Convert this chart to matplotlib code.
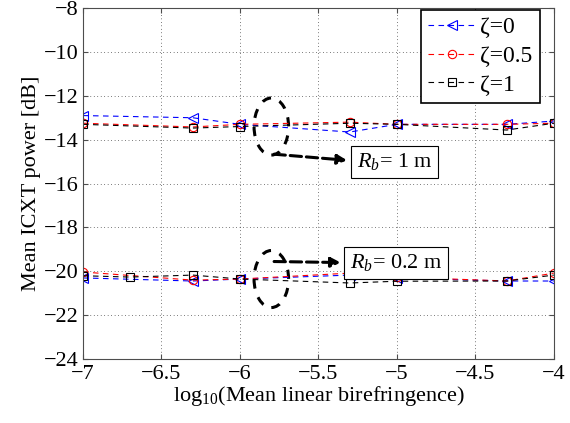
import numpy as np
import matplotlib.pyplot as plt
from matplotlib.patches import Ellipse

plt.rcParams['font.family'] = ['Liberation Serif', 'DejaVu Serif']
plt.rcParams['mathtext.fontset'] = 'custom'
plt.rcParams['mathtext.rm'] = 'Liberation Serif'
plt.rcParams['mathtext.it'] = 'Liberation Serif:italic'

# data
x = [-7, -6.3, -6, -5.3, -5, -4.3, -4]
x_b = [-7, -6.7, -6.3, -6, -5.3, -5, -4.3, -4]

# R_b = 1 m
up_z0 = [-12.9, -13.0, -13.3, -13.65, -13.3, -13.3, -13.15]
up_z05 = [-13.25, -13.42, -13.3, -13.2, -13.3, -13.3, -13.25]
up_z1 = [-13.3, -13.47, -13.4, -13.25, -13.3, -13.56, -13.25]

# R_b = 0.2 m
lo_z0 = [-20.3, -20.44, -20.35, -20.17, -20.3, -20.44, -20.44]
lo_z05 = [-20.03, -20.4, -20.35, -20.08, -20.26, -20.44, -20.08]
lo_z1 = [-20.2, -20.26, -20.17, -20.35, -20.53, -20.45, -20.44, -20.17]

labels = ['ζ=0', 'ζ=0.5', 'ζ=1']

fig = plt.figure(figsize=(5.7, 4.23), dpi=100)
ax = fig.add_axes([0.1456, 0.151, 0.826, 0.830])

dash = (0, (5, 4))
kw = dict(mfc='none', lw=0.8, ls=dash, mew=0.8)
ax.plot(x, up_z0, 'b<', ms=7, label=labels[0], **kw)
ax.plot(x, up_z05, 'ro', ms=6, label=labels[1], **kw)
ax.plot(x, up_z1, 'ks', ms=6, label=labels[2], **kw)
ax.plot(x, lo_z0, 'b<', ms=7, **kw)
ax.plot(x, lo_z05, 'ro', ms=6, **kw)
ax.plot(x_b, lo_z1, 'ks', ms=6, **kw)

# dashed ellipses with arrows to the labels
for cy in (-13.4, -20.35):
    ax.add_patch(Ellipse((-5.8, cy), 0.22, 2.6, fill=False, ls=(0, (3, 3)),
                         lw=2.2, ec='k'))
ax.annotate('', xy=(-5.3, -14.95), xytext=(-5.8, -14.65),
            arrowprops=dict(arrowstyle='-|>', ls='--', lw=2.2, color='k',
                            mutation_scale=14))
ax.annotate('', xy=(-5.34, -19.6), xytext=(-5.8, -19.55),
            arrowprops=dict(arrowstyle='-|>', ls='--', lw=2.2, color='k',
                            mutation_scale=14))
ax.text(-5.255, -15.0, r'$R_b$= 1 m', fontsize=16, va='center', ha='left',
        bbox=dict(boxstyle='square,pad=0.25', fc='white', ec='k', lw=0.8))
ax.text(-5.3, -19.6, r'$R_b$= 0.2 m', fontsize=16, va='center', ha='left',
        bbox=dict(boxstyle='square,pad=0.25', fc='white', ec='k', lw=0.8))

ax.set_xlim(-7, -4)
ax.set_ylim(-24, -8)
ax.set_xticks([-7, -6.5, -6, -5.5, -5, -4.5, -4])
ax.set_xticklabels(['\u22127', '\u22126.5', '\u22126', '\u22125.5', '\u22125',
                    '\u22124.5', '\u22124'])
ax.set_yticks(np.arange(-24, -7, 2))
ax.grid(True, ls=(0, (1, 4)), color='k', lw=0.5)
for s in ax.spines.values():
    s.set_color('0.3')
ax.tick_params(direction='in', top=True, right=True, labelsize=16, pad=3,
               color='0.3')
ax.tick_params(axis='x', pad=4)
ax.set_xlabel(r'log$_{10}$(Mean linear birefringence)', fontsize=16, labelpad=0)
ax.set_ylabel('Mean ICXT power [dB]', fontsize=16, labelpad=2)

leg = ax.legend(loc='upper right', bbox_to_anchor=(0.97, 0.995), fontsize=17,
                fancybox=False, framealpha=1, edgecolor='k', handlelength=2.0,
                handletextpad=0.2, borderpad=0.3, labelspacing=0.3,
                borderaxespad=0.0)
leg.get_frame().set_linewidth(1.2)

fig.savefig('out.png', dpi=100)
